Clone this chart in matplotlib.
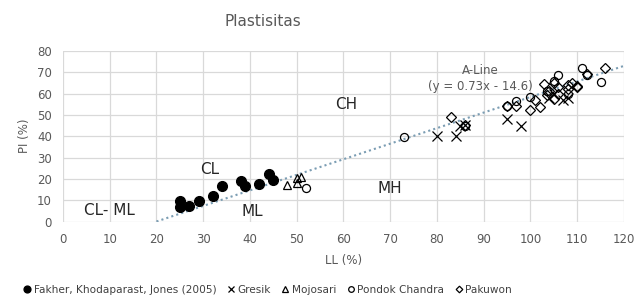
import matplotlib
matplotlib.use("Agg")
import matplotlib.pyplot as plt
import numpy as np

# data
FAKHER_LL = [25, 25, 27, 29, 32, 34, 38, 39, 42, 44, 45]
FAKHER_PI = [9.5, 7, 7.5, 9.5, 12, 16.5, 19, 16.5, 17.5, 22.5, 19.5]

GRESIK_LL = [80, 84, 85, 86, 95, 98, 104, 105, 107, 108]
GRESIK_PI = [40, 40, 45, 45.5, 48, 45, 58, 60, 57, 58]

MOJOSARI_LL = [48, 50, 50, 51]
MOJOSARI_PI = [17, 18, 20.5, 21]

PONDOK_LL = [52, 73, 86, 95, 97, 100, 103.5, 105, 106, 108, 111, 112, 115]
PONDOK_PI = [15.5, 39.5, 45, 54, 56.5, 58.5, 61, 66, 68.5, 60, 72, 68.5, 65.5]

PAKUWON_LL = [83, 86, 95, 97, 100, 101, 102, 103, 103.5, 104, 105, 105, 106,
              106, 108, 108, 109, 110, 110, 112, 116]
PAKUWON_PI = [49, 45.5, 54, 54, 52.5, 57, 53.5, 64.5, 59.5, 61, 65, 57.5, 63,
              60, 62, 64, 65, 63.5, 63, 69, 72]

ALINE_LL = [20, 120]

GRAY = "#595959"

fig = plt.figure(figsize=(6.36, 3.07), dpi=100)
ax = fig.add_axes([0.099, 0.2785, 0.882, 0.5555])

aline_pi = [0.73 * (x - 20) for x in ALINE_LL]
ax.plot(ALINE_LL, aline_pi, linestyle=(0, (1, 1.5)), color="#7b9db3", lw=1.5, zorder=2)

ax.plot(FAKHER_LL, FAKHER_PI, "o", color="black", ms=7, ls="none", zorder=3,
        label="Fakher, Khodaparast, Jones (2005)")
ax.plot(GRESIK_LL, GRESIK_PI, "x", color="black", mew=0.9, ms=7, ls="none", zorder=3,
        label="Gresik")
ax.plot(MOJOSARI_LL, MOJOSARI_PI, "^", mfc="none", mec="black", mew=0.9, ms=6,
        ls="none", zorder=3, label="Mojosari")
ax.plot(PONDOK_LL, PONDOK_PI, "o", mfc="none", mec="black", mew=0.9, ms=5.8,
        ls="none", zorder=3, label="Pondok Chandra")
ax.plot(PAKUWON_LL, PAKUWON_PI, "D", mfc="none", mec="black", mew=0.9, ms=4.8,
        ls="none", zorder=3, label="Pakuwon")

ax.set_xlim(0, 120)
ax.set_ylim(0, 80)
ax.set_xticks(np.arange(0, 121, 10))
ax.set_yticks(np.arange(0, 81, 10))
ax.grid(True, color="#d9d9d9", lw=0.9)
ax.set_axisbelow(True)
for s in ax.spines.values():
    s.set_visible(False)
ax.tick_params(length=0, labelsize=8.5, labelcolor=GRAY, pad=8)

ax.set_xlabel("LL (%)", fontsize=8.5, color=GRAY, labelpad=6)
ax.set_ylabel("PI (%)", fontsize=8.5, color=GRAY, labelpad=4)

zone_kw = dict(fontsize=11, color="#262626", ha="center", va="center")
ax.text(10, 5.3, "CL- ML", **zone_kw)
ax.text(31.4, 24.3, "CL", **zone_kw)
ax.text(40.4, 4.6, "ML", **zone_kw)
ax.text(60.5, 55, "CH", **zone_kw)
ax.text(70, 15.7, "MH", **zone_kw)
ax.text(89.2, 70.8, "A-Line", fontsize=8.5, color=GRAY, ha="center", va="center")
ax.text(89.2, 63.3, "(y = 0.73x - 14.6)", fontsize=8.5, color=GRAY,
        ha="center", va="center")

fig.text(263 / 636, 1 - 21 / 307, "Plastisitas", fontsize=11, color=GRAY,
         ha="center", va="center")

fig.legend(loc="center", bbox_to_anchor=(267 / 636, 1 - 290 / 307), ncol=5,
           frameon=False, fontsize=7.6, handletextpad=0.1, columnspacing=0.9,
           markerscale=0.7, labelcolor="#404040", handlelength=1.0)

fig.savefig("out.png", dpi=100)
